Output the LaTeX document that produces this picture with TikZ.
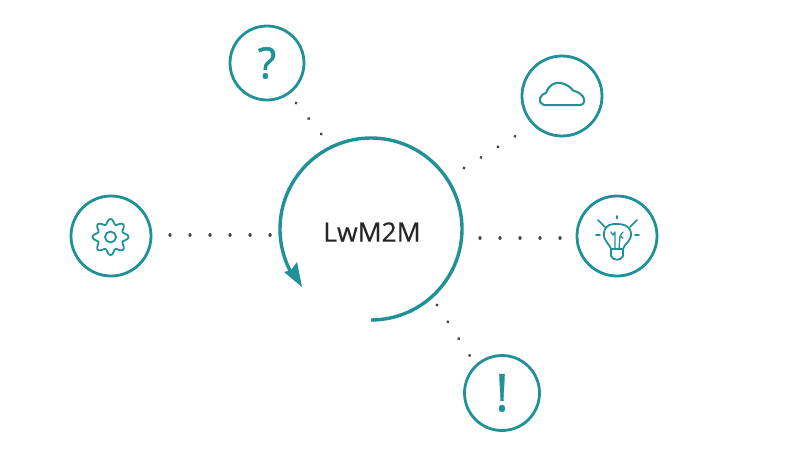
\documentclass[tikz,border=0pt]{standalone}
\usepackage{fontspec}
\setmainfont{Open Sans}
\newfontfamily\heavyfont[FakeBold=1.2]{Open Sans}
\newfontfamily\labelfont[FakeBold=0.6]{Open Sans}
\definecolor{teal1}{HTML}{1F9197}
\definecolor{dotc}{HTML}{444444}
\tikzset{
 x=1pt,y=-1pt,
 badge/.style={circle,draw=teal1,line width=2.8pt,inner sep=0pt,text=teal1},
 icon/.style={draw=teal1,line width=2pt,line join=round,line cap=round,fill=none},
 dots/.style={draw=dotc,line width=3.3pt,line cap=round,dash pattern=on 0.01pt off 20pt},
 mainarc/.style={draw=teal1,line width=3.4pt}
}
\begin{document}
\begin{tikzpicture}
\useasboundingbox (0,0) rectangle (793,450);
\node[badge,minimum size=74pt] (q) at (267,63) {\heavyfont\fontsize{43}{43}\selectfont ?};
\node[badge,minimum size=80pt] (cloud) at (562,96) {};
\node[badge,minimum size=80pt] (gear) at (111,236) {};
\node[badge,minimum size=80pt] (bulb) at (617,236) {};
\node[badge,minimum size=75pt] (ex) at (502,393) {\labelfont\fontsize{52}{52}\selectfont !};
\node[text=black!85] (lw) at (372,232) {\labelfont\fontsize{26.5}{28}\selectfont LwM2M};
% main arc
\coordinate (arccentre) at (372,229);
\coordinate (arcstart) at (371,320);
\draw[mainarc] (arcstart) arc[start angle=-90,end angle=213,x radius=91,y radius=-91];
\coordinate (tip) at (302,287);
\path[fill=teal1] (tip) -- (284,272) -- (291,270) -- (297,262) -- cycle;
% connectors
\coordinate (d1a) at (296,103); \coordinate (d1b) at (322,135);
\coordinate (d2a) at (464,168); \coordinate (d2b) at (517,135);
\coordinate (d3a) at (170,235); \coordinate (d3b) at (271,235);
\coordinate (d4a) at (480,238); \coordinate (d4b) at (562,238);
\coordinate (d5a) at (437,305); \coordinate (d5b) at (470,356);
\draw[dots] (d1a) -- (d1b);
\draw[dots] (d2a) -- (d2b);
\draw[dots] (d3a) -- (d3b);
\draw[dots] (d4a) -- (d4b);
\draw[dots] (d5a) -- (d5b);
% cloud
\draw[icon] (544,105) -- (580,105) .. controls (586,105) and (587,94) .. (573,90.5)
  .. controls (569,84) and (552,76) .. (546,93)
  .. controls (541,94) and (536,101) .. (544,105) -- cycle;
% gear
\draw[icon,line width=1.8pt] (110.5,237) circle (5.5);
\draw[icon,line width=1.8pt,smooth,samples=97,domain=0:360]
  plot ({110.5+(15.5+2.5*cos(8*\x))*cos(\x)},{237+(15.5+2.5*cos(8*\x))*sin(\x)}) -- cycle;
% bulb
\draw[icon,line width=1.8pt] (611,249) .. controls (610,244) and (603,241) .. (604,233)
  .. controls (605,224) and (612,224) .. (617,224)
  .. controls (622,224) and (630,225) .. (631,233)
  .. controls (632,241) and (624,244) .. (623,249) -- cycle;
\draw[icon,line width=1.8pt] (611,249) -- (611,256) .. controls (613,261) and (621,261) .. (623,256) -- (623,249);
\draw[icon,line width=1.3pt] (611,232) -- (613,235) -- (615,232) -- (615,249) (623,232) -- (620,236) -- (623,238) (620,236) -- (619,249);
\draw[icon,line width=1.6pt] (617,216) -- (617,218.5)
  (598,220) -- (605,227) (637,220) -- (630,227)
  (596,235) -- (600,235) (635,235) -- (639,235);
\end{tikzpicture}
\end{document}
